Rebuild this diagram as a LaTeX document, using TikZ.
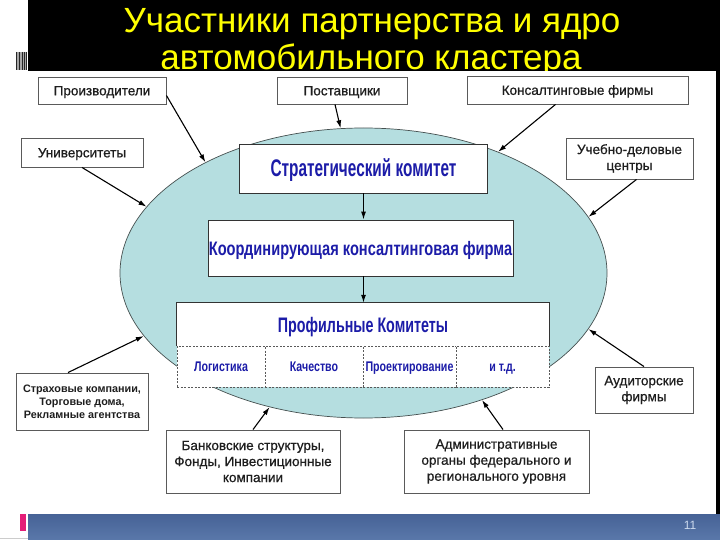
\documentclass[tikz,border=0pt]{standalone}
\usepackage{fontspec}
\setmainfont{Liberation Sans}
\newfontfamily\nfA{Liberation Sans}[FakeStretch=0.64]
\newfontfamily\nfB{Liberation Sans}[FakeStretch=0.75]
\newfontfamily\nfC{Liberation Sans}[FakeStretch=0.68]
\newfontfamily\nfD{Liberation Sans}[FakeStretch=0.76]
\newfontfamily\boxf{Liberation Sans}[FakeBold=0.7]
\usetikzlibrary{arrows.meta,calc,shapes.geometric}
\definecolor{ellfill}{RGB}{181,222,224}
\definecolor{ellline}{RGB}{70,80,80}
\definecolor{boxline}{RGB}{90,90,90}
\definecolor{boxtext}{RGB}{30,30,30}
\definecolor{cblue}{RGB}{28,28,168}
\definecolor{titleyellow}{RGB}{255,255,0}
\definecolor{stripA}{RGB}{70,98,150}
\definecolor{stripB}{RGB}{90,120,170}
\definecolor{pinkmark}{RGB}{228,30,120}
\definecolor{pagenum}{RGB}{205,218,238}
\tikzset{
  titletext/.style={text=titleyellow, inner sep=0pt, font=\fontsize{35}{36}\selectfont},
  box/.style={draw=boxline, fill=white, line width=0.9pt, align=center, inner sep=0pt,
    text=boxtext, font=\boxf\fontsize{13.5}{16}\selectfont},
  oneline/.style={text height=9.7pt, text depth=0pt},
  cbox/.style={draw=black!80, fill=white, line width=0.9pt, align=center, inner sep=0pt, text=cblue},
  cell/.style={draw=black!65, dash pattern=on 2pt off 1.5pt, fill=white, line width=0.8pt,
    inner sep=0pt, text=cblue, text height=10pt, text depth=0pt,
    font=\nfD\bfseries\fontsize{14}{16}\selectfont},
  arr/.style={-{Latex[length=8pt,width=5pt]}, line width=1.1pt, black},
}
\begin{document}
\begin{tikzpicture}[x=1pt,y=-1pt]
\useasboundingbox (0,0) rectangle (720,540);
\fill[white] (0,0) rectangle (720,540);
\fill[black] (28,0) rectangle (720,71.5);
\fill[black] (716,71.5) rectangle (720,514);
\node[titletext, anchor=base] (t1) at (372,33) {Участники партнерства и ядро};
\node[titletext, anchor=base] (t2) at (371,69.5) {автомобильного кластера};
\fill[white] (0,71.5) rectangle (716,514);
% left stripes
\fill[black!35] (16,52) rectangle (27,70);
\foreach \xx in {16.6,19.3,22,24.7,26.6} \draw[black!85, line width=0.9pt] (\xx,52) -- (\xx,70);
% bottom strip
\shade[top color=stripA, bottom color=stripB] (28,514) rectangle (720,540);
\fill[pinkmark] (20,514) rectangle (26,531);
\draw[black!20, line width=0.6pt] (0,538.5) -- (28,538.5);
\node[text=pagenum, font=\fontsize{12}{14}\selectfont] (pn) at (690,525) {11};

% ellipse
\node[ellipse, draw=ellline, fill=ellfill, line width=0.7pt, minimum width=487pt,
  minimum height=290pt, inner sep=0pt] (ell) at (363.5,273) {};

% central boxes
\node[cbox, minimum width=248pt, minimum height=49pt, text height=17pt, text depth=0pt,
  font=\nfA\bfseries\fontsize{24}{26}\selectfont] (strat) at (363.5,168.5) {Стратегический комитет};
\node[cbox, minimum width=305pt, minimum height=56pt, text height=14pt, text depth=0pt,
  font=\nfB\bfseries\fontsize{19.5}{21}\selectfont] (coord) at (360.5,248) {Координирующая консалтинговая фирма};
\node[fill=white, minimum width=372pt, minimum height=43pt, inner sep=0pt, text=cblue,
  text height=15pt, text depth=0pt,
  font=\nfC\bfseries\fontsize{21}{23}\selectfont] (prof) at (363,324.5) {Профильные Комитеты};
\node[cell, minimum width=88pt, minimum height=41pt] (c1) at (221,366.5) {Логистика};
\node[cell, minimum width=98pt, minimum height=41pt] (c2) at (314,366.5) {Качество};
\node[cell, minimum width=93pt, minimum height=41pt] (c3) at (409.5,366.5) {Проектирование};
\node[cell, minimum width=93pt, minimum height=41pt] (c4) at (502.5,366.5) {и т.д.};
\draw[black!80, line width=0.9pt] (prof.south west) -- (prof.north west) -- (prof.north east) -- (prof.south east);

\draw[arr] (strat.south) -- (strat.south |- coord.north);
\draw[arr] (coord.south -| strat.south) -- (strat.south |- prof.north);

% outer boxes
\node[box, oneline, minimum width=128pt, minimum height=27pt] (prod) at (102,90.5) {Производители};
\node[box, oneline, minimum width=130pt, minimum height=27pt] (supp) at (342,90.5) {Поставщики};
\node[box, oneline, minimum width=221pt, minimum height=28pt] (cons) at (577.5,90) {Консалтинговые фирмы};
\node[box, oneline, minimum width=122pt, minimum height=29pt] (univ) at (82,152.5) {Университеты};
\node[box, minimum width=127pt, minimum height=41pt] (ucheb) at (629.5,158.5) {Учебно-деловые\\центры};
\node[box, minimum width=132pt, minimum height=57pt,
  font=\bfseries\fontsize{10.8}{13}\selectfont] (strah) at (82,401.5) {Страховые компании,\\Торговые дома,\\Рекламные агентства};
\node[box, minimum width=174pt, minimum height=63pt] (bank) at (253,461.5) {Банковские структуры,\\Фонды, Инвестиционные\\компании};
\node[box, minimum width=185pt, minimum height=63pt] (admin) at (496.5,461.5) {Административные\\органы федерального и\\регионального уровня};
\node[box, minimum width=98pt, minimum height=46pt] (audit) at (644,390) {Аудиторские\\фирмы};

% arrows to the ellipse
\draw[arr] ($(prod.east)+(0,5)$) -- (ell.145.1);
\draw[arr] ($(supp.south)+(-7,0)$) -- (ell.99.1);
\draw[arr] ($(cons.south)+(-22,0)$) -- (ell.42.9);
\draw[arr] (univ.south) -- (ell.163);
\draw[arr] ($(ucheb.south)+(7,0)$) -- (ell.14.8);
\draw[arr] ($(strah.north)+(-14,0)$) -- (ell.196.4);
\draw[arr] (bank.north) -- (ell.235.3);
\draw[arr] ($(admin.north)+(6.5,0)$) -- (ell.313.5);
\draw[arr] (audit.north) -- (ell.346.6);
\end{tikzpicture}
\end{document}
